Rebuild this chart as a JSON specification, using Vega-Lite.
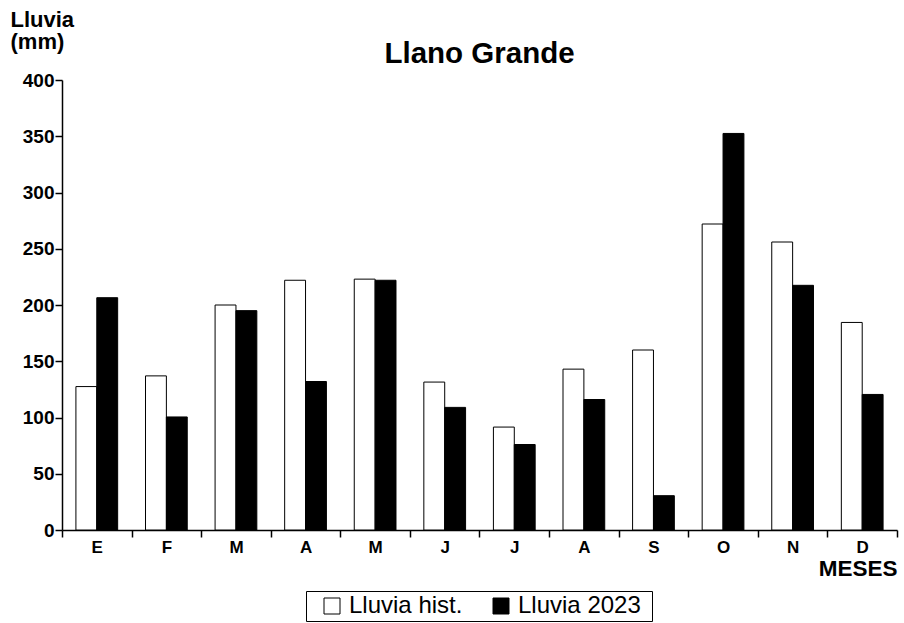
{
  "$schema": "https://vega.github.io/schema/vega-lite/v6.json",
  "width": 835,
  "height": 450,
  "autosize": {"type": "none"},
  "padding": {"left": 62, "top": 80, "right": 7, "bottom": 93},
  "background": "white",
  "title": {
    "text": "Llano Grande",
    "font": "Liberation Sans",
    "fontSize": 29.5,
    "fontWeight": "bold",
    "color": "black",
    "anchor": "middle",
    "frame": "group",
    "baseline": "alphabetic",
    "offset": 17,
    "dy": 101
  },
  "data": {
    "values": [
      {"m": 1, "serie": "Lluvia hist.", "mm": 127.5},
      {"m": 1, "serie": "Lluvia 2023", "mm": 206.5},
      {"m": 2, "serie": "Lluvia hist.", "mm": 137},
      {"m": 2, "serie": "Lluvia 2023", "mm": 100.5},
      {"m": 3, "serie": "Lluvia hist.", "mm": 200},
      {"m": 3, "serie": "Lluvia 2023", "mm": 195},
      {"m": 4, "serie": "Lluvia hist.", "mm": 222},
      {"m": 4, "serie": "Lluvia 2023", "mm": 132},
      {"m": 5, "serie": "Lluvia hist.", "mm": 223},
      {"m": 5, "serie": "Lluvia 2023", "mm": 222},
      {"m": 6, "serie": "Lluvia hist.", "mm": 131.5},
      {"m": 6, "serie": "Lluvia 2023", "mm": 109},
      {"m": 7, "serie": "Lluvia hist.", "mm": 91.5},
      {"m": 7, "serie": "Lluvia 2023", "mm": 76},
      {"m": 8, "serie": "Lluvia hist.", "mm": 143},
      {"m": 8, "serie": "Lluvia 2023", "mm": 116},
      {"m": 9, "serie": "Lluvia hist.", "mm": 160},
      {"m": 9, "serie": "Lluvia 2023", "mm": 30.5},
      {"m": 10, "serie": "Lluvia hist.", "mm": 272},
      {"m": 10, "serie": "Lluvia 2023", "mm": 352.5},
      {"m": 11, "serie": "Lluvia hist.", "mm": 256},
      {"m": 11, "serie": "Lluvia 2023", "mm": 217.5},
      {"m": 12, "serie": "Lluvia hist.", "mm": 184.5},
      {"m": 12, "serie": "Lluvia 2023", "mm": 120.5}
    ]
  },
  "mark": {"type": "bar", "stroke": "black", "strokeWidth": 1},
  "encoding": {
    "x": {
      "field": "m",
      "type": "ordinal",
      "sort": "ascending",
      "scale": {"paddingInner": 0, "paddingOuter": 0},
      "axis": {
        "title": "MESES",
        "titleFont": "Liberation Sans",
        "titleFontSize": 22.5,
        "titleFontWeight": "bold",
        "titleColor": "black",
        "titleAnchor": "end",
        "titleAlign": "right",
        "titleBaseline": "alphabetic",
        "titleX": 835,
        "titleY": 45,
        "labelExpr": "['E','F','M','A','M','J','J','A','S','O','N','D'][datum.value - 1]",
        "labelAngle": 0,
        "labelFont": "Liberation Sans",
        "labelFontSize": 17,
        "labelFontWeight": "bold",
        "labelColor": "black",
        "labelPadding": 2,
        "tickBand": "extent",
        "tickSize": 7,
        "tickColor": "black",
        "domainColor": "black",
        "domainWidth": 1.5,
        "tickWidth": 1.5
      }
    },
    "xOffset": {
      "field": "serie",
      "type": "nominal",
      "sort": ["Lluvia hist.", "Lluvia 2023"],
      "scale": {"paddingInner": 0, "paddingOuter": 0.667}
    },
    "y": {
      "field": "mm",
      "type": "quantitative",
      "scale": {"domain": [0, 400], "nice": false},
      "axis": {
        "values": [0, 50, 100, 150, 200, 250, 300, 350, 400],
        "grid": false,
        "title": ["Lluvia", "(mm)"],
        "titleFont": "Liberation Sans",
        "titleFontSize": 22,
        "titleFontWeight": "bold",
        "titleColor": "black",
        "titleAngle": 0,
        "titleAlign": "left",
        "titleBaseline": "alphabetic",
        "titleX": -52,
        "titleY": -54,
        "titleLineHeight": 22,
        "labelFont": "Liberation Sans",
        "labelFontSize": 19,
        "labelFontWeight": "bold",
        "labelColor": "black",
        "labelPadding": 1,
        "tickSize": 7,
        "tickColor": "black",
        "tickWidth": 1.5,
        "domainColor": "black",
        "domainWidth": 1.5
      }
    },
    "fill": {
      "field": "serie",
      "type": "nominal",
      "scale": {"domain": ["Lluvia hist.", "Lluvia 2023"], "range": ["white", "black"]},
      "legend": {
        "title": "\u00a0",
        "titleOrient": "right",
        "titleFontSize": 10,
        "titlePadding": 8,
        "orient": "none",
        "legendX": 244,
        "legendY": 511,
        "direction": "horizontal",
        "strokeColor": "black",
        "padding": 3,
        "symbolType": "square",
        "symbolSize": 256,
        "symbolStrokeColor": "black",
        "symbolStrokeWidth": 1,
        "symbolOffset": 11,
        "labelOffset": 5,
        "columnPadding": 15,
        "labelFont": "Liberation Sans",
        "labelFontSize": 24,
        "labelColor": "black",
        "labelLimit": 0
      }
    }
  },
  "config": {
    "view": {"stroke": null}
  }
}
